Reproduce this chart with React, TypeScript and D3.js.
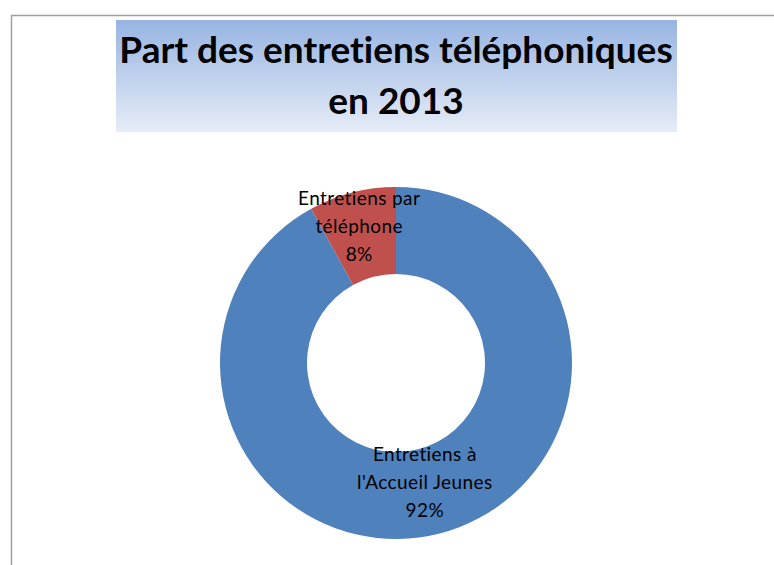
import { useEffect, useRef } from "react";
import * as d3 from "d3";

const categories = ["Entretiens à l'Accueil Jeunes", "Entretiens par téléphone"];
const labelLines = [
  ["Entretiens à", "l'Accueil Jeunes", "92%"],
  ["Entretiens par", "téléphone", "8%"],
];
const values = [92, 8];
const colors = ["#4F81BD", "#C0504D"];
const titleLines = ["Part des entretiens téléphoniques", "en 2013"];

const W = 774;
const H = 565;

const App = () => {
  const ref = useRef<SVGSVGElement>(null!);

  useEffect(() => {
    document.body.style.margin = "0";
    const svg = d3.select(ref.current);
    svg.selectAll("*").remove();
    svg.attr("width", W).attr("height", H).style("display", "block");

    svg.append("rect").attr("width", W).attr("height", H).attr("fill", "#fff");

    // chart area border (only top and left visible)
    svg
      .append("path")
      .attr("d", `M11.5,${H} V15.5 H${W}`)
      .attr("fill", "none")
      .attr("stroke", "#a0a0a0")
      .attr("stroke-width", 1.5);

    const defs = svg.append("defs");
    const grad = defs
      .append("linearGradient")
      .attr("id", "titleGrad")
      .attr("x1", 0)
      .attr("y1", 0)
      .attr("x2", 0)
      .attr("y2", 1);
    grad.append("stop").attr("offset", "0%").attr("stop-color", "#97B4E2");
    grad.append("stop").attr("offset", "100%").attr("stop-color", "#E6ECF7");

    svg
      .append("rect")
      .attr("x", 116)
      .attr("y", 20)
      .attr("width", 561)
      .attr("height", 112)
      .attr("fill", "url(#titleGrad)");

    svg
      .append("g")
      .selectAll("text")
      .data(titleLines)
      .enter()
      .append("text")
      .attr("x", 396)
      .attr("y", (_, i) => 63 + i * 51)
      .attr("text-anchor", "middle")
      .attr("font-family", "Lato, 'Open Sans', sans-serif")
      .attr("font-weight", "bold")
      .attr("font-size", 37)
      .style("font-variant-ligatures", "none")
      .attr("fill", "#000")
      .text((d) => d);

    const cx = 396;
    const cy = 363;
    const outer = 176;
    const inner = 89;

    const pie = d3
      .pie<number>()
      .value((d) => d)
      .sort(null);
    const arcs = pie(values);
    const arc = d3.arc<d3.PieArcDatum<number>>().innerRadius(inner).outerRadius(outer);
    const labelArc = d3.arc<d3.PieArcDatum<number>>().innerRadius(132).outerRadius(132);

    const g = svg.append("g").attr("transform", `translate(${cx},${cy})`);
    g.selectAll("path")
      .data(arcs)
      .enter()
      .append("path")
      .attr("d", arc)
      .attr("fill", (_, i) => colors[i])
      .append("title")
      .text((d, i) => `${categories[i]}: ${d.data}%`);

    const labels = g
      .selectAll("g.label")
      .data(arcs)
      .enter()
      .append("g")
      .attr("class", "label")
      .attr("transform", (d) => {
        const [x, y] = labelArc.centroid(d);
        return `translate(${x - 4},${y - 9})`;
      });

    labels
      .selectAll("text")
      .data((_, i) => labelLines[i])
      .enter()
      .append("text")
      .attr("x", 0)
      .attr("y", (_, j) => (j - 1) * 28 + 7)
      .attr("text-anchor", "middle")
      .attr("font-family", "Lato, 'Open Sans', sans-serif")
      .attr("font-size", 19)
      .attr("letter-spacing", 0.4)
      .style("font-variant-ligatures", "none")
      .attr("fill", "#000")
      .text((d) => d);
  }, []);

  return <svg ref={ref} />;
};

export default App;
